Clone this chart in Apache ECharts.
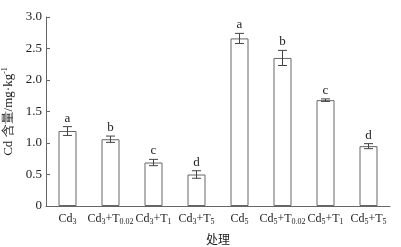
<!DOCTYPE html>
<html><head><meta charset="utf-8">
<script src="https://cdn.jsdelivr.net/npm/echarts@6/dist/echarts.min.js"></script>
<style>html,body{margin:0;padding:0;background:#fff}#c{width:401px;height:247px}</style>
</head><body><div id="c"></div>
<script>
const categories = [['Cd','3',''],['Cd','3','0.02'],['Cd','3','1'],['Cd','3','5'],['Cd','5',''],['Cd','5','0.02'],['Cd','5','1'],['Cd','5','5']];
const values = [1.19, 1.06, 0.69, 0.50, 2.66, 2.35, 1.68, 0.95];
const errors = [0.07, 0.05, 0.05, 0.06, 0.08, 0.12, 0.02, 0.04];
const letters = ['a','b','c','d','a','b','c','d'];
const yTicks = [0, 0.5, 1.0, 1.5, 2.0, 2.5, 3.0];

const font = '"Liberation Serif","Times New Roman",serif';
const catNames = categories.map(c => c.join('|'));
const chart = echarts.init(document.getElementById('c'));
chart.setOption({
  animation: false,
  grid: {left: 46, right: 11, top: 17, bottom: 41, outerBoundsMode: 'none', containLabel: false},
  xAxis: {
    type: 'category', data: catNames,
    name: '处理', nameLocation: 'middle', nameGap: 27,
    nameTextStyle: {fontFamily: '"Noto Sans CJK SC",serif', fontSize: 12, color: '#222'},
    axisLine: {lineStyle: {color: '#666', width: 1}},
    axisTick: {show: false},
    axisLabel: {
      interval: 0, margin: 6,
      formatter: function (v) {
        const p = v.split('|');
        let s = p[0] + '{sub|' + p[1] + '}';
        if (p[2]) s += '+T{sub|' + p[2] + '}';
        return s;
      },
      fontFamily: font, fontSize: 12, color: '#222',
      rich: {sub: {fontFamily: font, fontSize: 8, color: '#222', verticalAlign: 'bottom', padding: [6, 0, 0, 0]}}
    }
  },
  yAxis: {
    type: 'value', min: 0, max: 3, interval: 0.5,
    name: 'Cd 含量/mg·kg{sup|-1}', nameLocation: 'middle', nameGap: 29, nameRotate: 90,
    nameTextStyle: {fontFamily: font, fontSize: 13, color: '#222',
      rich: {sup: {fontFamily: font, fontSize: 8, color: '#222', verticalAlign: 'top', padding: [0, 0, 6, 0]}}},
    axisLine: {show: true, lineStyle: {color: '#666', width: 1}},
    axisTick: {show: true, inside: true, length: 4, lineStyle: {color: '#666'}},
    splitLine: {show: false},
    axisLabel: {
      fontFamily: font, fontSize: 13, color: '#222', margin: 4,
      formatter: v => { const t = yTicks.find(x => Math.abs(x - v) < 1e-9); return t === 0 ? '0' : t.toFixed(1); }
    }
  },
  series: [
    {
      type: 'bar', data: values, barWidth: 18,
      itemStyle: {color: '#fff', borderColor: '#666', borderWidth: 1}
    },
    {
      type: 'custom',
      data: values.map((v, i) => [i, v - errors[i], v + errors[i], letters[i]]),
      renderItem: function (params, api) {
        const i = api.value(0);
        const lo = api.coord([i, api.value(1)]);
        const hi = api.coord([i, api.value(2)]);
        const x = lo[0], hw = 4.5;
        const st = {stroke: '#444', lineWidth: 1};
        return {type: 'group', children: [
          {type: 'line', shape: {x1: x, y1: lo[1], x2: x, y2: hi[1]}, style: st},
          {type: 'line', shape: {x1: x - hw, y1: lo[1], x2: x + hw, y2: lo[1]}, style: st},
          {type: 'line', shape: {x1: x - hw, y1: hi[1], x2: x + hw, y2: hi[1]}, style: st},
          {type: 'text', style: {text: letters[i], x: x, y: hi[1] - 2, textAlign: 'center', textVerticalAlign: 'bottom',
            font: '13px ' + font, fill: '#222'}}
        ]};
      },
      z: 5
    }
  ]
});
</script></body></html>
